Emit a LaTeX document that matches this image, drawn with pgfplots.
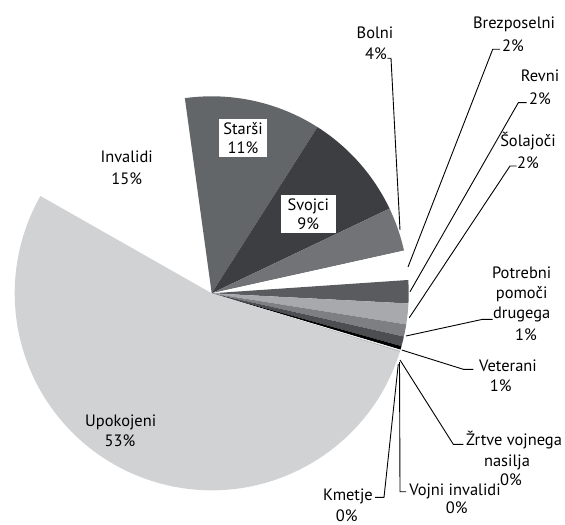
\documentclass[border=0pt]{standalone}
\usepackage{pgfplots}
\usepackage{pgfplotstable}
\pgfplotsset{compat=1.18}
\usepackage{fontspec}
\setmainfont{PT Sans}

\definecolor{cUpo}{HTML}{D1D2D4}
\definecolor{cStarsi}{HTML}{636669}
\definecolor{cSvojci}{HTML}{3C3E41}
\definecolor{cBolni}{HTML}{717376}
\definecolor{cRevni}{HTML}{595B5E}
\definecolor{cSolajoci}{HTML}{A7A9AC}
\definecolor{cPotrebni}{HTML}{7D7F82}
\definecolor{cVeterani}{HTML}{4C4E51}
\definecolor{cZrtve}{HTML}{000000}
\definecolor{cVojni}{HTML}{F2F2F2}
\definecolor{cKmetje}{HTML}{B5B7B9}

% share (%) of each group, clockwise from the upper-left
\pgfplotstableread[col sep=comma]{
key,value,color
Invalidi,14.6,white
Starsi,11.2,cStarsi
Svojci,8.9,cSvojci
Bolni,3.6,cBolni
Brezposelni,2.4,white
Revni,1.9,cRevni
Solajoci,1.7,cSolajoci
Potrebni,1.0,cPotrebni
Veterani,0.8,cVeterani
Zrtve,0.3,cZrtve
Vojni,0.1,cVojni
Kmetje,0.1,cKmetje
Upokojeni,53.4,cUpo
}\slices

\begin{document}
\begin{tikzpicture}[font=\fontsize{16.5}{19.5}\selectfont]
\begin{axis}[hide axis, x=1bp, y=1bp, xmin=0, xmax=565, ymin=0, ymax=525,
  y dir=reverse, clip=false]
\pgfplotsextra{%
  \pgfplotstablegetrowsof{\slices}%
  \pgfmathtruncatemacro{\nrows}{\pgfplotsretval-1}%
  \xdef\curangle{150.4}%
  \foreach \i in {0,...,\nrows}{%
    \pgfplotstablegetelem{\i}{value}\of{\slices}\let\val\pgfplotsretval
    \pgfplotstablegetelem{\i}{color}\of{\slices}\let\col\pgfplotsretval
    \pgfmathsetmacro{\endangle}{\curangle-3.6*\val}%
    \fill[fill=\col] (axis cs:211.7,293.3) -- ++(\curangle:197bp)
       arc[start angle=\curangle, end angle=\endangle, radius=197bp] -- cycle;
    \xdef\curangle{\endangle}%
  }%
}
% leader lines
\draw[line width=0.9bp] (axis cs:400,230) -- (axis cs:391,58.3) -- (axis cs:387.3,58.3);
\draw[line width=0.9bp] (axis cs:408,267) -- (axis cs:492.7,49.3) -- (axis cs:500,49.3);
\draw[line width=0.9bp] (axis cs:410,291.7) -- (axis cs:518.3,102.7) -- (axis cs:526.7,102.7);
\draw[line width=0.9bp] (axis cs:409.3,317.7) -- (axis cs:510,166) -- (axis cs:516.7,166);
\draw[line width=0.9bp] (axis cs:406,336) -- (axis cs:482.7,319.3) -- (axis cs:492.7,319.3);
\draw[line width=0.9bp] (axis cs:401.7,350) -- (axis cs:463.3,369.3) -- (axis cs:473.3,369.3);
\draw[line width=0.9bp] (axis cs:400,360) -- (axis cs:453.3,444.3) -- (axis cs:463.3,444.3);
\draw[line width=0.9bp] (axis cs:399.5,362) -- (axis cs:400,491.7) -- (axis cs:406,491.7);
\draw[line width=0.9bp] (axis cs:398.3,364) -- (axis cs:384,497.3) -- (axis cs:375,497.3);
% labels
\node[anchor=base] at (axis cs:375,38.3) {Bolni};
\node[anchor=base] at (axis cs:376,60) {4\%};
\node[anchor=base] at (axis cs:514,28.3) {Brezposelni};
\node[anchor=base] at (axis cs:513,51.7) {2\%};
\node[anchor=base] at (axis cs:540,81.7) {Revni};
\node[anchor=base] at (axis cs:540,105) {2\%};
\node[anchor=base] at (axis cs:528,146.7) {Šolajoči};
\node[anchor=base] at (axis cs:528,168.3) {2\%};
\node[anchor=base] at (axis cs:521.7,278.3) {Potrebni};
\node[anchor=base] at (axis cs:521.7,298.5) {pomoči};
\node[anchor=base] at (axis cs:521.7,318.5) {drugega};
\node[anchor=base] at (axis cs:526,340) {1\%};
\node[anchor=base] at (axis cs:508,371.7) {Veterani};
\node[anchor=base] at (axis cs:500.7,391.7) {1\%};
\node[anchor=base] at (axis cs:514,445) {Žrtve vojnega};
\node[anchor=base] at (axis cs:507,466) {nasilja};
\node[anchor=base] at (axis cs:511,485) {0\%};
\node[anchor=base] at (axis cs:455,495) {Vojni invalidi};
\node[anchor=base] at (axis cs:456.7,513.3) {0\%};
\node[anchor=base] at (axis cs:348,500) {Kmetje};
\node[anchor=base] at (axis cs:346.7,521.7) {0\%};
\node[anchor=base] at (axis cs:126.7,162.7) {Invalidi};
\node[anchor=base] at (axis cs:126.7,184.3) {15\%};
\node[anchor=base] at (axis cs:120.7,426) {Upokojeni};
\node[anchor=base] at (axis cs:120,446.7) {53\%};
\node[fill=white, align=center, inner sep=3.5bp, text width=41bp] at (axis cs:243,138) {Starši\\11\%};
\node[fill=white, align=center, inner sep=3.5bp, text width=48bp] at (axis cs:308.3,214) {Svojci\\9\%};
\end{axis}
\pgfresetboundingbox
\path[use as bounding box] (current axis.south west) rectangle (current axis.north east);
\end{tikzpicture}
\end{document}
